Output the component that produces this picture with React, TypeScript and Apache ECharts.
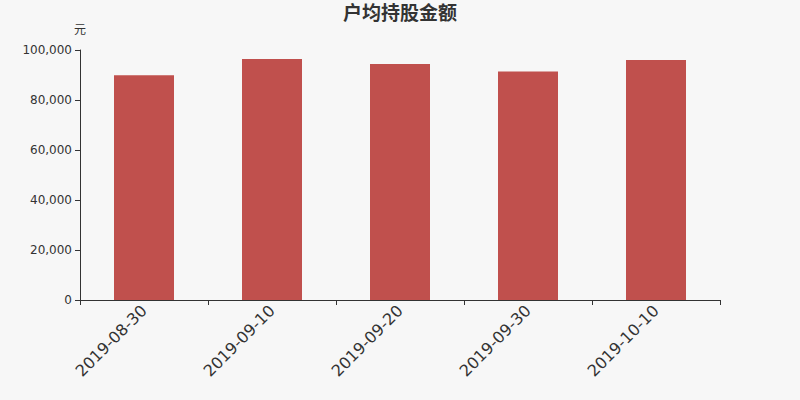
import { useEffect, useRef } from "react";
import * as echarts from "echarts";

const categories = ["2019-08-30", "2019-09-10", "2019-09-20", "2019-09-30", "2019-10-10"];
const values = [89900, 96400, 94400, 91400, 96000];
const FONT = "'DejaVu Sans', 'Noto Sans CJK SC', sans-serif";

export default function App() {
  const chartRef = useRef<HTMLDivElement>(null);

  useEffect(() => {
    if (!chartRef.current) return;
    document.body.style.margin = "0";
    const chart = echarts.init(chartRef.current, null, { renderer: "svg" });

    chart.setOption({
      animation: false,
      backgroundColor: "#f7f7f7",
      textStyle: { fontFamily: FONT },
      title: {
        text: "户均持股金额",
        left: "center",
        top: -2,
        textStyle: { fontSize: 19, fontWeight: "bold", color: "#333", fontFamily: FONT },
      },
      grid: { left: 80, right: 80, top: 50, bottom: 100 },
      xAxis: {
        type: "category",
        data: categories,
        axisLine: { lineStyle: { color: "#333" } },
        axisTick: { show: true, alignWithLabel: false, lineStyle: { color: "#333" } },
        axisLabel: { color: "#333", fontSize: 16, rotate: 45, margin: 8 },
      },
      yAxis: {
        type: "value",
        min: 0,
        max: 100000,
        interval: 20000,
        name: "元",
        nameGap: 14,
        nameTextStyle: { color: "#333", fontSize: 12 },
        axisLine: { show: true, lineStyle: { color: "#333" } },
        axisTick: { show: true, lineStyle: { color: "#333" } },
        splitLine: { show: false },
        axisLabel: {
          color: "#333",
          fontSize: 12,
          formatter: (v: number) => v.toLocaleString("en-US"),
        },
      },
      series: [
        {
          type: "bar",
          data: values,
          barWidth: 60,
          itemStyle: { color: "#c0504d" },
        },
      ],
    });

    return () => {
      chart.dispose();
    };
  }, []);

  return <div ref={chartRef} style={{ width: 800, height: 400 }} />;
}
